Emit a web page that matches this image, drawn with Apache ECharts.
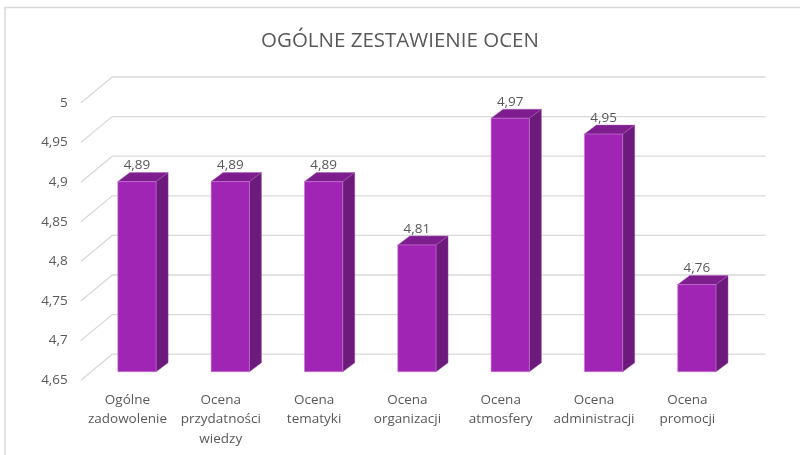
<!DOCTYPE html>
<html>
<head>
<meta charset="utf-8">
<script src="https://cdn.jsdelivr.net/npm/echarts@6/dist/echarts.min.js"></script>
<style>
  html, body { margin: 0; padding: 0; background: #fff; }
  #myChart { width: 800px; height: 455px; }
</style>
</head>
<body>
<div id="myChart"></div>
<script>
const categories = ['Ogólne\nzadowolenie', 'Ocena\nprzydatności\nwiedzy', 'Ocena\ntematyki', 'Ocena\norganizacji', 'Ocena\natmosfery', 'Ocena\nadministracji', 'Ocena\npromocji']
const scores = [4.89, 4.89, 4.89, 4.81, 4.97, 4.95, 4.76]
const yTicks = [4.65, 4.7, 4.75, 4.8, 4.85, 4.9, 4.95, 5]
const yMin = 4.65
const yMax = 5
const yStep = 0.05

// 3d offsets (px) relative to the bar plane
const depth = [12, -9]
const backWall = [22, -17.5]
const frontEdge = [-9.5, 8.5]

const fmt = function(v) {
  return String(+v.toFixed(2)).replace('.', ',')
}

const textColor = '#595959'
const lineColor = '#D9D9D9'

const myChart = echarts.init(document.getElementById('myChart'))
myChart.setOption({
  animation: false,
  title: {
    text: 'OGÓLNE ZESTAWIENIE OCEN',
    left: 'center',
    top: 26,
    textStyle: { fontFamily: 'Open Sans', fontSize: 20.5, fontWeight: 'normal', color: textColor }
  },
  graphic: [
    { type: 'polyline', shape: { points: [[5, 455], [5, 7.5], [800, 7.5]] }, style: { stroke: lineColor, lineWidth: 1.5, fill: null } }
  ],
  grid: [
    { left: 90.3, right: 56.5, top: 94.5, bottom: 83.3 },
    { left: 80.8, right: 66, top: 103, bottom: 74.8 }
  ],
  xAxis: [
    {
      type: 'category', data: categories, gridIndex: 0,
      axisLine: { show: false }, axisTick: { show: false }, axisLabel: { show: false }
    },
    {
      type: 'category', data: categories, gridIndex: 1,
      axisLine: { show: false }, axisTick: { show: false },
      axisLabel: { interval: 0, margin: 10, color: textColor, fontFamily: 'Open Sans', fontSize: 13.5, lineHeight: 19.5 }
    }
  ],
  yAxis: [
    {
      type: 'value', gridIndex: 0, min: yMin, max: yMax, interval: yStep,
      axisLine: { show: false }, axisTick: { show: false }, axisLabel: { show: false }, splitLine: { show: false }
    },
    {
      type: 'value', gridIndex: 1, min: yMin, max: yMax, interval: yStep,
      axisLine: { show: false }, axisTick: { show: false }, splitLine: { show: false },
      axisLabel: { margin: 13, color: textColor, fontFamily: 'Open Sans', fontSize: 13.5, formatter: fmt }
    }
  ],
  series: [
    {
      // back wall grid lines with the diagonal floor lines
      type: 'custom',
      xAxisIndex: 0, yAxisIndex: 0,
      z: 1,
      silent: true,
      data: yTicks.map(function(v) { return [0, v] }),
      renderItem: function(params, api) {
        const cs = params.coordSys
        const y = api.coord([0, api.value(1)])[1]
        return {
          type: 'polyline',
          shape: {
            points: [
              [cs.x + frontEdge[0], y + frontEdge[1]],
              [cs.x + backWall[0], y + backWall[1]],
              [cs.x + cs.width + backWall[0], y + backWall[1]]
            ]
          },
          style: { stroke: lineColor, lineWidth: 1.3, fill: null }
        }
      }
    },
    {
      type: 'custom',
      xAxisIndex: 0, yAxisIndex: 0,
      z: 2,
      data: scores.map(function(v, i) { return [i, v] }),
      renderItem: function(params, api) {
        const i = api.value(0)
        const v = api.value(1)
        const top = api.coord([i, v])
        const bot = api.coord([i, yMin])
        const w = api.size([1, 0])[0] * 0.41
        const x0 = top[0] - w / 2
        const x1 = top[0] + w / 2
        const yt = top[1]
        const yb = bot[1]
        const dx = depth[0]
        const dy = depth[1]
        return {
          type: 'group',
          children: [
            {
              type: 'polygon',
              shape: { points: [[x1, yt], [x1 + dx, yt + dy], [x1 + dx, yb + dy], [x1, yb]] },
              style: { fill: '#6C1A7B', stroke: '#8E4A9A', lineWidth: 0.5 }
            },
            {
              type: 'polygon',
              shape: { points: [[x0, yt], [x1, yt], [x1 + dx, yt + dy], [x0 + dx, yt + dy]] },
              style: { fill: '#7E1E8E', stroke: '#A65AB2', lineWidth: 0.5 }
            },
            {
              type: 'rect',
              shape: { x: x0, y: yt, width: w, height: yb - yt },
              style: { fill: '#A125B4', stroke: '#C47AD0', lineWidth: 0.6 }
            },
            {
              type: 'text',
              style: {
                x: top[0], y: yt - 16,
                text: fmt(v),
                align: 'center', verticalAlign: 'middle',
                fill: textColor, font: '13.5px "Open Sans"'
              }
            }
          ]
        }
      }
    }
  ]
})
</script>
</body>
</html>
